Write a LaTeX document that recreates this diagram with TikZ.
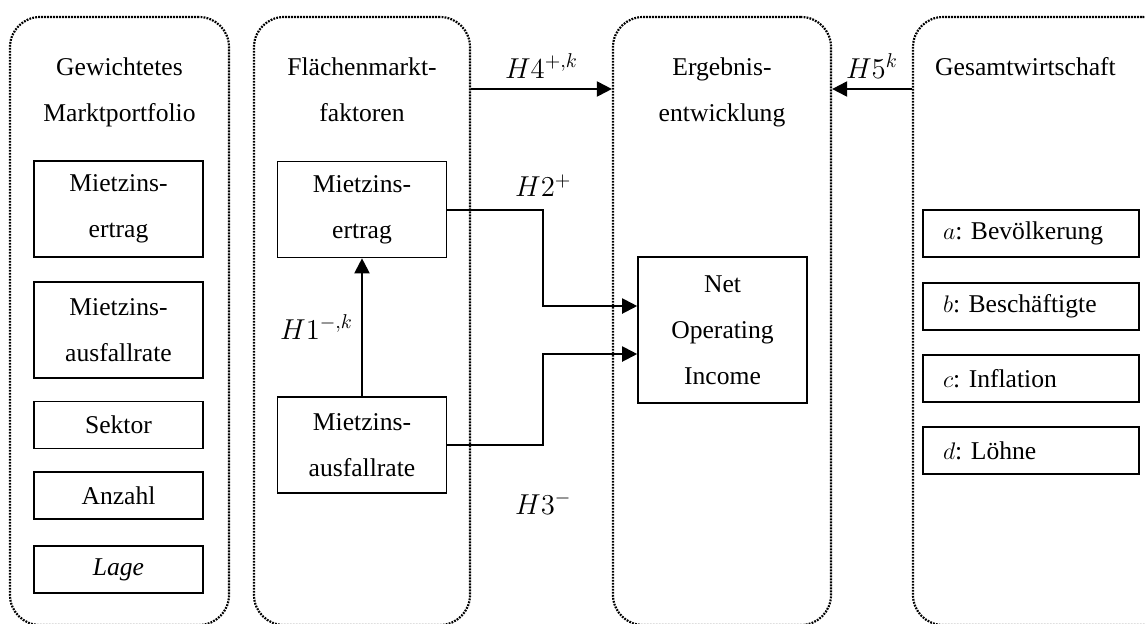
\documentclass[tikz,border=0pt]{standalone}
\usepackage{fontspec}
\setmainfont{Liberation Serif}
\usetikzlibrary{arrows.meta,positioning,calc}
\frenchspacing

\begin{document}
\begin{tikzpicture}[x=0.5pt,y=-0.5pt,
  every node/.style={font=\fontsize{12.8}{23}\selectfont},
  panel/.style={draw,line width=1.1pt,dash pattern=on 0.9pt off 0.6pt,rounded corners=15pt,minimum height=304pt},
  title/.style={align=center,inner sep=0pt,anchor=base},
  box/.style={draw,line width=0.8pt,inner sep=0pt,align=center,minimum width=84.5pt},
  tallbox/.style={box,minimum height=48pt},
  flatbox/.style={box,minimum height=23.5pt},
  varbox/.style={draw,line width=0.8pt,inner xsep=10pt,inner ysep=0pt,text width=88pt,align=left,minimum height=23.5pt},
  arr/.style={line width=1pt,-{Triangle[length=7.5pt,width=7.5pt]}},
  lbl/.style={inner sep=0pt,font=\fontsize{14}{16}\selectfont}]
\useasboundingbox (0,0) rectangle (1145,623);
\clip (0,0) rectangle (1145,623);
% the four dotted panels
\node[panel,minimum width=109.5pt] (gmp) at (119.5,321) {};
\node[panel,minimum width=108pt] (fmf) at (362,321) {};
\node[panel,minimum width=109pt] (erg) at (722,321) {};
\node[panel,minimum width=129.5pt] (gw) at (1042.5,321) {};
% titles (base = last line)
\node[title] (tgmp) at (119.5,121) {Gewichtetes\\Marktportfolio};
\node[title] (tfmf) at (362,121) {Flächenmarkt-\\faktoren};
\node[title] (terg) at (722,121) {Ergebnis-\\entwicklung};
\node[title] (tgw) at (1025.5,75) {Gesamtwirtschaft};
% Gewichtetes Marktportfolio
\node[tallbox] (m1) at (118.5,209) {Mietzins-\\ertrag};
\node[tallbox] (m2) at (118.5,330) {Mietzins-\\ausfallrate};
\node[flatbox] (m3) at (118.5,425) {Sektor};
\node[flatbox] (m4) at (118.5,495.5) {Anzahl};
\node[flatbox] (m5) at (118.5,569.5) {\textit{Lage}};
% Flaechenmarktfaktoren
\node[tallbox] (f1) at (362,209.5) {Mietzins-\\ertrag};
\node[tallbox] (f2) at (362,445) {Mietzins-\\ausfallrate};
% Ergebnis
\node[box,minimum height=73pt] (noi) at (722.5,330) {Net\\Operating\\Income};
% Gesamtwirtschaft
\node[varbox] (ga) at (1031,233.5) {$a$: Bevölkerung};
\node[varbox] (gb) at (1031,306.5) {$b$: Beschäftigte};
\node[varbox] (gc) at (1031,378.5) {$c$: Inflation};
\node[varbox] (gd) at (1031,450.5) {$d$: Löhne};
% hypotheses
\coordinate (hy) at (0,89);
\draw[arr] (fmf.east |- hy) -- (erg.west |- hy) node[lbl,midway,above=5pt] {$H4^{+,k}$};
\draw[arr] (gw.west |- hy) -- (erg.east |- hy) node[lbl,midway,above=5pt] {$H5^{k}$};
\draw[arr] (f2) -- (f1) node[lbl,midway,left=4pt] {$H1^{-,k}$};
\draw[arr] (f1.east) -- ++(96,0) node[lbl,above=6pt] {$H2^{+}$} |- ([yshift=12pt]noi.west);
\draw[arr] (f2.east) -- ++(96,0) node[lbl,below=23pt] {$H3^{-}$} |- ([yshift=-12pt]noi.west);
\end{tikzpicture}
\end{document}
